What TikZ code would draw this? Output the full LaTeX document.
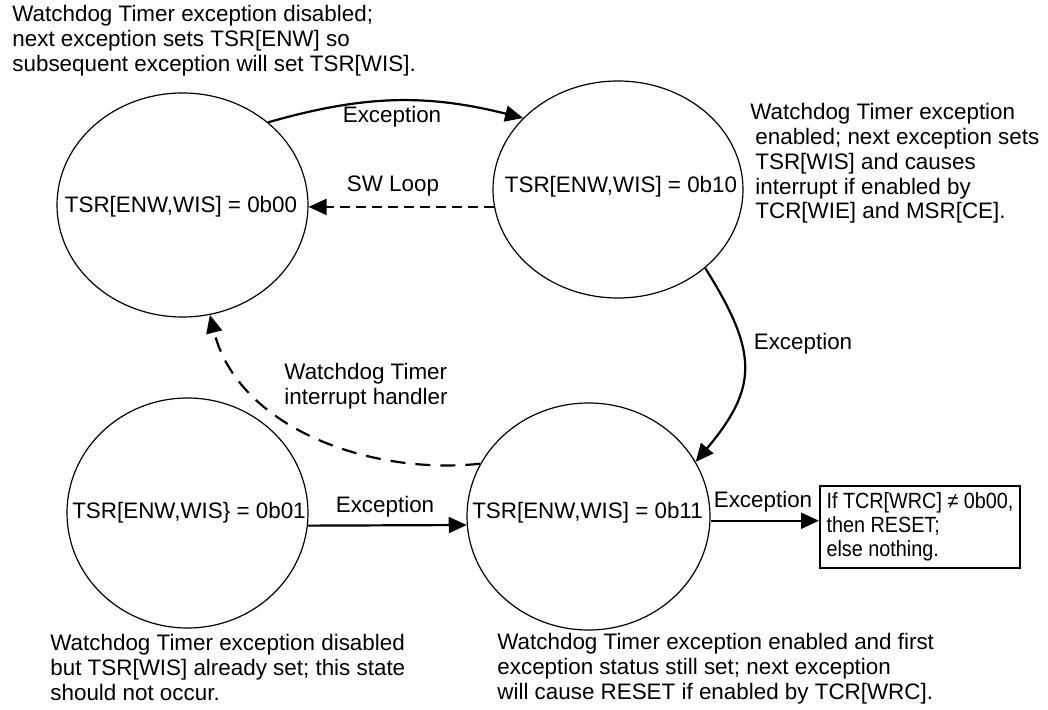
\documentclass[tikz,border=0pt]{standalone}
\usepackage{fontspec}
\setmainfont{Liberation Sans}
\newfontfamily\narrowfont[FakeStretch=0.9]{Liberation Sans}
\usetikzlibrary{shapes.geometric, arrows.meta}

\begin{document}
\begin{tikzpicture}[x=0.5bp, y=0.5bp,
  every node/.style={font=\fontsize{11.2bp}{12.4bp}\selectfont},
  state/.style={draw, ellipse, line width=0.6bp, inner sep=0pt},
  arr/.style={line width=1.1bp, -{Triangle[length=9bp, width=8bp]}},
  swloop/.style={arr, dash pattern=on 5bp off 3bp},
  handler/.style={arr, dash pattern=on 7.5bp off 5bp},
  note/.style={align=left, anchor=north west, inner sep=0pt}]
\useasboundingbox (0,0) rectangle (1048,-710);
\node[state, minimum width=125.5bp, minimum height=112bp] (s00) at (182.5,-205) {};
\node[state, minimum width=125bp, minimum height=108.5bp] (s10) at (618,-189.5) {};
\node[state, minimum width=120.5bp, minimum height=115bp] (s01) at (187.5,-513) {};
\node[state, minimum width=121.5bp, minimum height=113.5bp] (s11) at (588.5,-516.5) {};
\node (t00) at (181,-207) {TSR[ENW,WIS] = 0b00};
\node (t10) at (621,-187) {TSR[ENW,WIS] = 0b10};
\node (t01) at (189,-513) {TSR[ENW,WIS\} = 0b01};
\node (t11) at (587.5,-513) {TSR[ENW,WIS] = 0b11};
\node[draw, line width=1bp, minimum width=100bp, minimum height=41bp, align=left, inner sep=0pt,
  font=\narrowfont\fontsize{11bp}{12bp}\selectfont] (rst) at (920,-527) {If TCR[WRC] ≠ 0b00,\\then RESET;\\else nothing.};
\draw[arr] (s00.44) to[bend left=15] (s10.143);
\draw[swloop] (s10.188) -- (s10.188 -| s00.east);
\draw[arr] (s10.318) to[out=-58, in=50, looseness=1.3] (s11.27);
\draw[handler] (s11.154) to[out=186, in=-76, looseness=0.95] (s00.284);
\draw[arr] (s01.354) -- (s11.184);
\draw[arr] (s11.358) -- (s11.358 -| rst.west);
\node (e1) at (392,-117) {Exception};
\node (sw) at (393,-186) {SW Loop};
\node (e2) at (803,-344) {Exception};
\node[align=left] (wdh) at (366,-386) {Watchdog Timer\\interrupt handler};
\node (e3) at (385,-507) {Exception};
\node (e4) at (763,-502) {Exception};
\node[note] (n00) at (12,-5) {Watchdog Timer exception disabled;\\next exception sets TSR[ENW] so\\subsequent exception will set TSR[WIS].};
\node[note] (n10) at (755,-103) {\hspace*{-2.5bp}Watchdog Timer exception\\enabled; next exception sets\\TSR[WIS] and causes\\interrupt if enabled by\\TCR[WIE] and MSR[CE].};
\node[note] (n01) at (50,-634) {Watchdog Timer exception disabled\\but TSR[WIS] already set; this state\\should not occur.};
\node[note] (n11) at (497,-633) {Watchdog Timer exception enabled and first\\exception status still set; next exception\\will cause RESET if enabled by TCR[WRC].};
\end{tikzpicture}
\end{document}
